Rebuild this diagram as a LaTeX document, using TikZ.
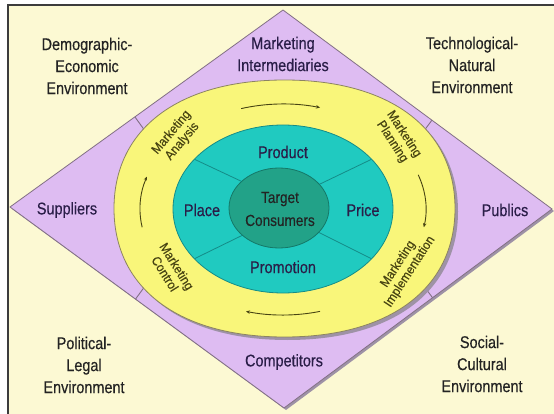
\documentclass[tikz,border=0pt]{standalone}
\usepackage{fontspec}
\usetikzlibrary{arrows.meta}
\newfontfamily\mkfonte[FakeStretch=0.85,FakeBold=0.4]{Liberation Sans}
\newfontfamily\mkanel[FakeStretch=0.92,FakeBold=0.3]{Liberation Sans}
\definecolor{MkFundo}{RGB}{252,249,211}
\definecolor{MkMoldura}{RGB}{60,60,60}
\definecolor{MkLilas}{RGB}{222,188,242}
\definecolor{MkLilasB}{RGB}{130,112,132}
\definecolor{MkSombra}{RGB}{158,146,166}
\definecolor{MkAmarelo}{RGB}{249,246,122}
\definecolor{MkAmareloB}{RGB}{140,132,98}
\definecolor{MkCiano}{RGB}{32,202,192}
\definecolor{MkCianoB}{RGB}{20,140,136}
\definecolor{MkVerde}{RGB}{34,162,136}
\definecolor{MkVerdeB}{RGB}{20,120,104}
\definecolor{MkTexto}{RGB}{35,35,35}
\definecolor{MkRoxo}{RGB}{42,30,72}
\definecolor{MkOliva}{RGB}{72,68,18}
\newcommand\mkovo{(455,208.5) .. controls (455,128.8) and (390.2,80) .. (284.5,80) .. controls (178.8,80) and (114,128.8) .. (114,208.5) .. controls (114,288.2) and (178.8,337) .. (284.5,337) .. controls (390.2,337) and (455,288.2) .. (455,208.5) -- cycle}

\begin{document}
\begin{tikzpicture}[x=1pt,y=-1pt,every node/.style={font=\mkfonte\fontsize{17}{22}\selectfont,align=center,inner sep=0pt,text=MkTexto},
  anel/.style={font=\mkanel\fontsize{13}{14}\selectfont,text=MkOliva},
  seta/.style={draw=MkOliva,line width=.9pt,-{Stealth[length=4pt,width=3.5pt]}},
  corte/.style={draw=MkLilasB,line width=.9pt}]
\useasboundingbox (0,0) rectangle (554,414);
\fill[white](0,0)rectangle(554,414);
\fill[MkFundo](8,5)rectangle(554,414);
\draw[MkMoldura,line width=1.4pt](8,414)--(8,5)--(554,5);
% losango
\coordinate(topo)at(283,10);\coordinate(dir)at(552,209);\coordinate(base)at(284,408);\coordinate(esq)at(10,207);
\fill[MkSombra]([shift={(2,2)}]topo)--([shift={(2,2)}]dir)--([shift={(2,2)}]base)--([shift={(2,2)}]esq)--cycle;
\filldraw[fill=MkLilas,draw=MkLilasB,line width=.8pt](topo)--(dir)--(base)--(esq)--cycle;
\draw[corte](143.5,128.8)--(134.9,116.9);\draw[corte](425.5,128.8)--(431.9,120.2);
\draw[corte](143.5,288.2)--(135.5,299.1);\draw[corte](425.5,288.2)--(432.5,297.7);
% anel amarelo
\fill[MkSombra,shift={(3,3)}]\mkovo;
\filldraw[fill=MkAmarelo,draw=MkAmareloB,line width=.8pt]\mkovo;
\coordinate(centro)at(283,209);
\draw[seta]([shift={(-107:143 and 105)}]centro)arc[start angle=-107,end angle=-75,x radius=143,y radius=105];
\draw[seta]([shift={(-19:143 and 105)}]centro)arc[start angle=-19,end angle=10,x radius=143,y radius=105];
\draw[seta]([shift={(75:143 and 106)}]centro)arc[start angle=75,end angle=105,x radius=143,y radius=106];
\draw[seta]([shift={(170:143 and 105)}]centro)arc[start angle=170,end angle=198,x radius=143,y radius=105];
\node[anel,rotate=50](analise)at(177,137){Marketing\\Analysis};
\node[anel,rotate=-57](planej)at(398,138){Marketing\\Planning};
\node[anel,rotate=57](implem)at(404,268){Marketing\\Implementation};
\node[anel,rotate=-58](contr)at(171,270){Marketing\\Control};
% mix
\filldraw[fill=MkCiano,draw=MkCianoB,line width=.8pt](centro)ellipse[x radius=110,y radius=84];
\draw[MkCianoB,line width=.8pt](194.5,159.3)--(245,183);\draw[MkCianoB,line width=.8pt](371.5,159.3)--(318,185);
\draw[MkCianoB,line width=.8pt](194.5,258.7)--(245,234);\draw[MkCianoB,line width=.8pt](371.5,258.7)--(318,232);
\filldraw[fill=MkVerde,draw=MkVerdeB,line width=.8pt](279,208)ellipse[x radius=50,y radius=40];
\node[text=MkRoxo](produto)at(283,152){Product};
\node[text=MkRoxo](praca)at(202,210){Place};
\node[text=MkRoxo](preco)at(363,210){Price};
\node[text=MkRoxo](promo)at(283,267){Promotion};
\node[font=\mkfonte\fontsize{16}{23}\selectfont](alvo)at(280,209){Target\\Consumers};
% atores e ambiente
\node[text=MkRoxo](interm)at(283,54){Marketing\\Intermediaries};
\node[text=MkRoxo](forn)at(67,210){Suppliers};
\node[text=MkRoxo](publ)at(505,210){Publics};
\node[text=MkRoxo](conc)at(284,362){Competitors};
\node(demog)at(87,66){Demographic-\\Economic\\Environment};
\node(tecno)at(472,65){Technological-\\Natural\\Environment};
\node(polit)at(84,365){Political-\\Legal\\Environment};
\node(social)at(482,364){Social-\\Cultural\\Environment};
\end{tikzpicture}
\end{document}
